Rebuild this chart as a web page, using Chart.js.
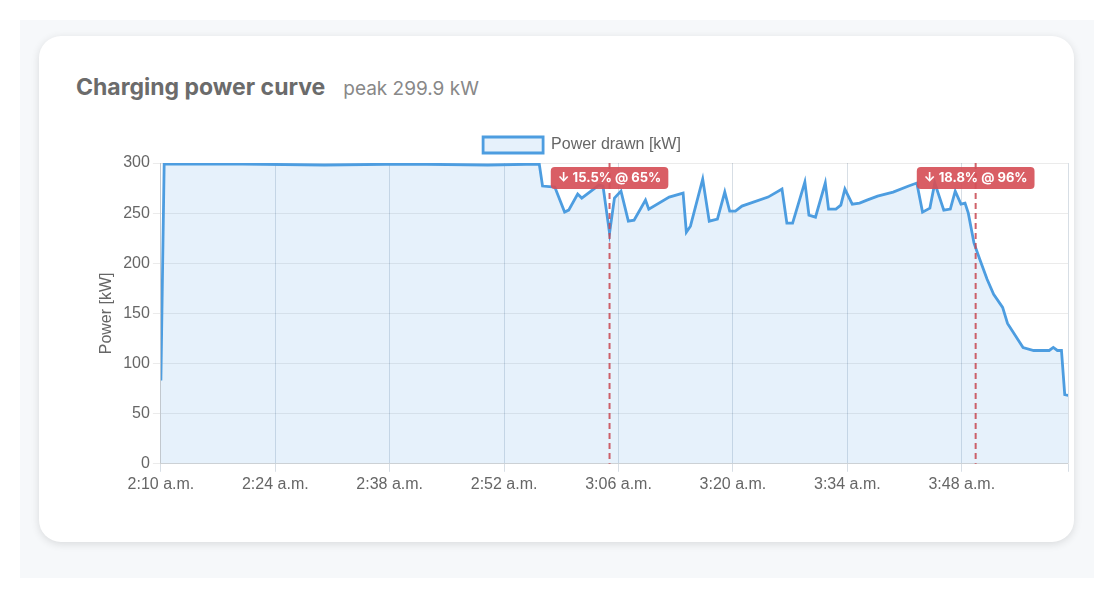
<!DOCTYPE html>
<html>
<head>
<meta charset="utf-8">
<script src="https://cdn.jsdelivr.net/npm/chart.js@4"></script>
<style>
  body { margin: 0; background: #fff; font-family: "Helvetica Neue", Inter, "Liberation Sans", sans-serif; }
  .outer { position: absolute; left: 20px; top: 20px; width: 1074px; height: 558px; background: #f6f8fa; }
  .card { position: absolute; left: 19px; top: 16px; width: 1035px; height: 506px; background: #fff; border-radius: 22px; box-shadow: 0 2px 8px rgba(0,0,0,0.12); }
  .title { position: absolute; left: 37px; top: 37px; font-size: 23px; font-weight: bold; color: #6b6b6b; }
  .title span { font-weight: normal; font-size: 19px; color: #888; margin-left: 18px; }
  .wrap { position: absolute; left: 21px; top: 84px; width: 1011px; height: 377px; }
</style>
</head>
<body>
<div class="outer"><div class="card">
  <div class="title">Charging power curve<span>peak 299.9 kW</span></div>
  <div class="wrap"><canvas id="powerChart"></canvas></div>
</div></div>
<script>
// minutes since 2:10 a.m.
const minutes = [0, 0.4, 10, 20, 30, 40, 46.3, 46.7, 48.2, 49.4, 49.9, 51.0, 51.5, 53.6, 54.1, 54.9, 55.5, 56.3, 57.2, 57.9, 59.3, 59.7, 62.2, 63.9, 64.3, 64.8, 66.3, 67.1, 68.1, 69.0, 69.6, 70.3, 71.1, 74.3, 76.0, 76.6, 77.3, 78.8, 79.3, 80.1, 81.3, 81.7, 82.6, 83.2, 83.7, 84.6, 85.5, 86.4, 87.7, 89.6, 91.5, 92.5, 93.2, 94.1, 94.7, 95.8, 96.6, 97.2, 97.9, 98.4, 98.8, 99.5, 100.2, 101.1, 101.9, 103.0, 103.6, 105.5, 106.8, 108.7, 109.2, 109.7, 110.2, 110.6, 111.1];
const power = [83, 299, 299, 298, 299, 298, 299, 277, 276, 251, 253, 269, 265, 278, 277, 230, 265, 272, 242, 243, 263, 254, 266, 270, 231, 237, 284, 242, 244, 271, 252, 252, 257, 266, 274, 240, 240, 281, 248, 246, 280, 254, 254, 258, 274, 259, 260, 263, 267, 271, 277, 280, 251, 255, 280, 253, 254, 272, 259, 260, 250, 220, 204, 184, 169, 156, 140, 116, 113, 113, 116, 113, 113, 69, 68];
const markers = [
  { at: 54.9, label: "↓ 15.5% @ 65%" },
  { at: 99.7, label: "↓ 18.8% @ 96%" }
];
const yTicks = [0, 50, 100, 150, 200, 250, 300];

function clockLabel(m) {
  if (m > 110) return "";
  const total = 2 * 60 + 10 + m;
  const h = Math.floor(total / 60), mm = Math.round(total % 60);
  return h + ":" + String(mm).padStart(2, "0") + " a.m.";
}

const markerPlugin = {
  id: "markers",
  afterDatasetsDraw(chart) {
    const { ctx, chartArea, scales } = chart;
    markers.forEach(mk => {
      const x = scales.x.getPixelForValue(mk.at);
      ctx.save();
      ctx.strokeStyle = "rgba(200,70,80,0.85)";
      ctx.lineWidth = 2;
      ctx.setLineDash([6, 4]);
      ctx.beginPath();
      ctx.moveTo(x, chartArea.top);
      ctx.lineTo(x, chartArea.bottom);
      ctx.stroke();
      ctx.setLineDash([]);
      ctx.font = "bold 13px 'Helvetica Neue', Inter, sans-serif";
      const w = ctx.measureText(mk.label).width + 14;
      const y = chartArea.top + 4;
      ctx.fillStyle = "rgba(214,80,88,0.92)";
      ctx.beginPath();
      ctx.roundRect(x - w / 2, y, w, 22, 4);
      ctx.fill();
      ctx.fillStyle = "#fff";
      ctx.textBaseline = "middle";
      ctx.fillText(mk.label, x - w / 2 + 7, y + 11.5);
      ctx.restore();
    });
  }
};

new Chart(document.getElementById("powerChart"), {
  type: "line",
  data: {
    datasets: [{
      label: "Power drawn [kW]",
      data: minutes.map((m, i) => ({ x: m, y: power[i] })),
      borderColor: "#4d9de0",
      backgroundColor: "rgba(77,157,224,0.14)",
      borderWidth: 2.8,
      fill: true,
      pointRadius: 0,
      tension: 0
    }]
  },
  options: {
    responsive: true,
    maintainAspectRatio: false,
    animation: false,
    layout: { padding: { left: 33, right: 0, top: 7 } },
    plugins: {
      legend: { labels: { color: "#666", font: { size: 16 }, boxWidth: 60, boxHeight: 16 } },
      tooltip: { enabled: false }
    },
    scales: {
      x: {
        type: "linear", min: 0, max: 111,
        ticks: { stepSize: 14, color: "#666", font: { size: 16 }, callback: v => clockLabel(v) },
        grid: { color: "rgba(140,160,180,0.35)" }
      },
      y: {
        min: 0, max: 300,
        afterBuildTicks: s => { s.ticks = yTicks.map(v => ({ value: v })); },
        ticks: { color: "#666", font: { size: 16 } },
        title: { display: true, text: "Power [kW]", color: "#666", font: { size: 16 } },
        grid: { color: "rgba(0,0,0,0.08)" }
      }
    }
  },
  plugins: [markerPlugin]
});
</script>
</body>
</html>
